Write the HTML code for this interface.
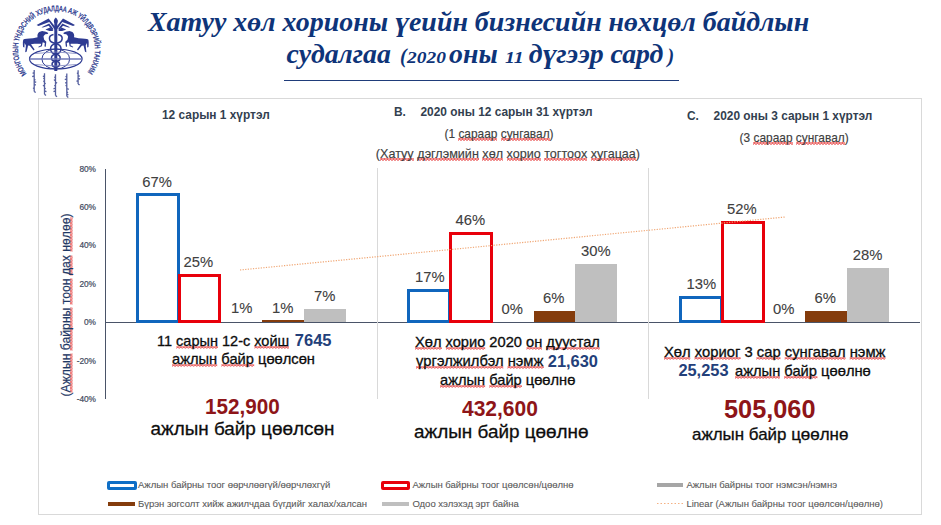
<!DOCTYPE html>
<html><head><meta charset="utf-8">
<style>
html,body{margin:0;padding:0;background:#fff;}
body{width:941px;height:525px;position:relative;overflow:hidden;font-family:"Liberation Sans",sans-serif;}
.a{position:absolute;white-space:nowrap;line-height:1;}
.t{font-family:"Liberation Serif",serif;font-weight:bold;font-style:italic;color:#0e3479;}
.ct{font-weight:bold;color:#333f50;}
.cs{color:#404040;-webkit-text-stroke:0.15px #404040;}
.yl{color:#3f4a5e;-webkit-text-stroke:0.2px #3f4a5e;}
.dl{color:#404040;-webkit-text-stroke:0.1px #404040;}
.tx{color:#0d0d0d;-webkit-text-stroke:0.3px #0d0d0d;}
.bn{font-weight:bold;color:#23407a;}
.big{font-weight:bold;color:#8e1518;}
.lg{color:#595959;-webkit-text-stroke:0.1px #595959;}
.bar{position:absolute;box-sizing:border-box;}
.bl{border:3px solid #1066bd;}
.rd{border:3px solid #e8000b;}
.br{background:#843c0c;}
.gr{background:#bfbfbf;}
.sq{background-image:linear-gradient(45deg,transparent 40%,rgba(230,60,60,.55) 40%,rgba(230,60,60,.55) 70%,transparent 70%),linear-gradient(-45deg,transparent 40%,rgba(230,60,60,.55) 40%,rgba(230,60,60,.55) 70%,transparent 70%);background-size:3px 3px;background-repeat:repeat-x;background-position:0 100%;}
</style></head><body>
<div class="a t" id="t1" style="left:147.5px;top:7.7px;font-size:27.8px;transform:scaleX(1.004);transform-origin:0 0;">Хатуу хөл хорионы үеийн бизнесийн нөхцөл байдлын</div>
<div class="a t" id="t2" style="left:286.5px;top:39.6px;font-size:27.8px;">судалгаа <span id="t2p" style="font-size:20px;margin-left:2px;">(</span><span id="t2y" style="font-size:16.5px;display:inline-block;transform:scaleX(1.18);transform-origin:0 0;margin-right:6.5px;">2020</span><span id="t2o" style="margin-left:3px">оны</span> <span id="t2n" style="font-size:16.5px;display:inline-block;transform:scaleX(1.2);transform-origin:0 0;margin-right:5.5px;">11</span><span id="t2d" style="margin-left:-4px"> дүгээр сард</span><span id="t2q" style="font-size:20px;margin-left:4px;">)</span></div>
<div class="a" style="left:284px;top:80px;width:395px;height:1px;background:#1f3c7a;"></div>
<div class="a" style="left:38px;top:98px;width:882px;height:415px;border:1px solid #d9d9d9;"></div>
<div class="a ct" id="ct1" style="left:162.0px;top:110.2px;font-size:11.9px;">12 сарын 1 хүртэл</div>
<div class="a ct" id="ct2a" style="left:394.0px;top:107.4px;font-size:11.9px;">B.</div>
<div class="a ct" id="ct2" style="left:420.5px;top:107.4px;font-size:11.9px;">2020 оны 12 сарын 31 хүртэл</div>
<div class="a cs" id="cs2" style="left:444.5px;top:129.2px;font-size:11.9px;">(1 <span class="sq">сараар</span> <span class="sq">сунгавал</span>)</div>
<div class="a cs" id="cs2b" style="left:375.8px;top:147.7px;font-size:12.6px;">(<span class="sq">Хатуу</span> <span class="sq">дэглэмийн</span> <span class="sq">хөл</span> <span class="sq">хорио</span> <span class="sq">тогтоох</span> <span class="sq">хугацаа</span>)</div>
<div class="a ct" id="ct3a" style="left:687.0px;top:110.7px;font-size:11.9px;">C.</div>
<div class="a ct" id="ct3" style="left:713.6px;top:110.7px;font-size:11.9px;">2020 оны 3 сарын 1 хүртэл</div>
<div class="a cs" id="cs3" style="left:739.6px;top:132.5px;font-size:11.9px;">(3 <span class="sq">сараар</span> <span class="sq">сунгавал</span>)</div>
<div class="a" style="left:105px;top:169px;width:1px;height:230px;background:#4a5468;"></div>
<div class="a" style="left:105px;top:322px;width:815px;height:1px;background:#4a5468;"></div>
<div class="a" style="left:377px;top:168px;width:1px;height:231px;background:#d9d9d9;"></div>
<div class="a" style="left:648px;top:168px;width:1px;height:231px;background:#d9d9d9;"></div>
<div class="a yl" style="right:845px;top:164.7px;font-size:8.3px;">80%</div>
<div class="a yl" style="right:845px;top:203.1px;font-size:8.3px;">60%</div>
<div class="a yl" style="right:845px;top:241.3px;font-size:8.3px;">40%</div>
<div class="a yl" style="right:845px;top:279.7px;font-size:8.3px;">20%</div>
<div class="a yl" style="right:845px;top:318.2px;font-size:8.3px;">0%</div>
<div class="a yl" style="right:845px;top:357.0px;font-size:8.3px;">-20%</div>
<div class="a yl" style="right:845px;top:395.4px;font-size:8.3px;">-40%</div>
<div class="a" id="ytitle" style="left:66px;top:304.5px;transform:translate(-50%,-50%) rotate(-90deg);font-size:12.2px;color:#1f3864;-webkit-text-stroke:0.2px #1f3864;">(<span class="sq">Ажлын</span> <span class="sq">байрны</span> <span class="sq">тоон</span> <span class="sq">дах</span> <span class="sq">нөлөө</span>)</div>
<div class="bar bl" style="left:136px;top:193px;width:44px;height:130px;"></div>
<div class="bar rd" style="left:178px;top:274px;width:43px;height:49px;"></div>
<div class="bar br" style="left:262px;top:320px;width:42px;height:2px;"></div>
<div class="bar gr" style="left:304px;top:309px;width:42px;height:13px;"></div>
<div class="bar bl" style="left:407px;top:289px;width:44px;height:34px;"></div>
<div class="bar rd" style="left:449px;top:232px;width:44px;height:91px;"></div>
<div class="bar br" style="left:534px;top:311px;width:41px;height:11px;"></div>
<div class="bar gr" style="left:575px;top:264px;width:42px;height:58px;"></div>
<div class="bar bl" style="left:679px;top:296px;width:44px;height:27px;"></div>
<div class="bar rd" style="left:721px;top:221px;width:44px;height:102px;"></div>
<div class="bar br" style="left:805px;top:311px;width:42px;height:11px;"></div>
<div class="bar gr" style="left:847px;top:268px;width:42px;height:54px;"></div>
<svg class="a" style="left:0;top:0;" width="941" height="525"><line x1="240" y1="270" x2="785" y2="217" stroke="#f0a673" stroke-width="1.2" stroke-dasharray="1.2 1.4"/></svg>
<div class="a dl" style="left:142.2px;top:174.7px;font-size:14.8px;">67%</div>
<div class="a dl" style="left:183.5px;top:254.5px;font-size:14.8px;">25%</div>
<div class="a dl" style="left:231.1px;top:301.1px;font-size:14.8px;">1%</div>
<div class="a dl" style="left:272.1px;top:301.1px;font-size:14.8px;">1%</div>
<div class="a dl" style="left:314.1px;top:288.5px;font-size:14.8px;">7%</div>
<div class="a dl" style="left:415.1px;top:269.5px;font-size:14.8px;">17%</div>
<div class="a dl" style="left:455.5px;top:213.1px;font-size:14.8px;">46%</div>
<div class="a dl" style="left:501.5px;top:301.9px;font-size:14.8px;">0%</div>
<div class="a dl" style="left:543.1px;top:290.5px;font-size:14.8px;">6%</div>
<div class="a dl" style="left:581.1px;top:244.1px;font-size:14.8px;">30%</div>
<div class="a dl" style="left:686.5px;top:277.1px;font-size:14.8px;">13%</div>
<div class="a dl" style="left:727.1px;top:201.9px;font-size:14.8px;">52%</div>
<div class="a dl" style="left:773.1px;top:301.5px;font-size:14.8px;">0%</div>
<div class="a dl" style="left:814.5px;top:291.1px;font-size:14.8px;">6%</div>
<div class="a dl" style="left:852.7px;top:247.9px;font-size:14.8px;">28%</div>
<div class="a tx" id="x1a" style="left:156.5px;top:334.1px;font-size:14.3px;transform:scaleX(1.015);transform-origin:0 0;">11 <span class="sq">сарын</span> 12-с <span class="sq">хойш</span></div>
<div class="a bn" id="n1" style="left:294.8px;top:332.1px;font-size:16.5px;">7645</div>
<div class="a tx" id="x1b" style="left:172.0px;top:351.9px;font-size:14.3px;transform:scaleX(1.027);transform-origin:0 0;"><span class="sq">ажлын</span> <span class="sq">байр</span> цөөлсөн</div>
<div class="a big" id="b1" style="left:204.6px;top:395.9px;font-size:21.7px;transform:scaleX(0.953);transform-origin:0 0;">152,900</div>
<div class="a tx" id="x1c" style="left:150.5px;top:419.7px;font-size:18.9px;">ажлын байр цөөлсөн</div>
<div class="a tx" id="x2a" style="left:414.6px;top:335.4px;font-size:14.2px;transform:scaleX(1.032);transform-origin:0 0;"><span class="sq">Хөл</span> <span class="sq">хорио</span> 2020 <span class="sq">он</span> <span class="sq">дуустал</span></div>
<div class="a tx" id="x2b" style="left:415.7px;top:354.0px;font-size:14.2px;transform:scaleX(1.039);transform-origin:0 0;"><span class="sq">үргэлжилбэл</span> <span class="sq">нэмж</span></div>
<div class="a bn" id="n2" style="left:547.8px;top:352.5px;font-size:16.4px;">21,630</div>
<div class="a tx" id="x2c" style="left:439.5px;top:373.0px;font-size:14.3px;transform:scaleX(1.025);transform-origin:0 0;"><span class="sq">ажлын</span> <span class="sq">байр</span> цөөлнө</div>
<div class="a big" id="b2" style="left:462.3px;top:399.4px;font-size:21.3px;transform:scaleX(0.986);transform-origin:0 0;">432,600</div>
<div class="a tx" id="x2d" style="left:414.1px;top:423.0px;font-size:18.9px;">ажлын байр цөөлнө</div>
<div class="a tx" id="x3a" style="left:664.1px;top:345.4px;font-size:14.1px;transform:scaleX(1.049);transform-origin:0 0;"><span class="sq">Хөл</span> <span class="sq">хориог</span> 3 <span class="sq">сар</span> <span class="sq">сунгавал</span> <span class="sq">нэмж</span></div>
<div class="a bn" id="n3" style="left:678.4px;top:361.7px;font-size:16.4px;">25,253</div>
<div class="a tx" id="x3b" style="left:735.3px;top:363.7px;font-size:14.1px;transform:scaleX(1.043);transform-origin:0 0;"><span class="sq">ажлын</span> <span class="sq">байр</span> цөөлнө</div>
<div class="a big" id="b3" style="left:723.6px;top:397.1px;font-size:25px;transform:scaleX(1.013);transform-origin:0 0;">505,060</div>
<div class="a tx" id="x3d" style="left:692.4px;top:425.7px;font-size:16.4px;transform:scaleX(1.033);transform-origin:0 0;">ажлын байр цөөлнө</div>
<div class="a" style="left:107px;top:481px;width:30px;height:9px;box-sizing:border-box;border:3px solid #0f6fc6;border-radius:2px;background:#fff;"></div>
<div class="a lg" id="lg1" style="left:138.0px;top:480.0px;font-size:9.5px;">Ажлын байрны тоог өөрчлөөгүй/өөрчлөхгүй</div>
<div class="a" style="left:381px;top:481px;width:29px;height:9px;box-sizing:border-box;border:3px solid #e8000b;border-radius:2px;background:#fff;"></div>
<div class="a lg" id="lg2" style="left:412.4px;top:480.0px;font-size:9.5px;">Ажлын байрны тоог цөөлсөн/цөөлнө</div>
<div class="a" style="left:657px;top:483px;width:26px;height:4px;background:#a6a6a6;"></div>
<div class="a lg" id="lg3" style="left:686.4px;top:480.0px;font-size:9.5px;">Ажлын байрны тоог нэмсэн/нэмнэ</div>
<div class="a" style="left:108px;top:502px;width:27px;height:4px;background:#843c0c;"></div>
<div class="a lg" id="lg4" style="left:138.0px;top:499.4px;font-size:9.5px;">Бүрэн зогсолт хийж ажилчдаа бүгдийг халах/халсан</div>
<div class="a" style="left:382px;top:502px;width:27px;height:4px;background:#bfbfbf;"></div>
<div class="a lg" id="lg5" style="left:412.4px;top:499.4px;font-size:9.5px;">Одоо хэлэхэд эрт байна</div>
<svg class="a" style="left:657px;top:502px;" width="26" height="3"><line x1="0" y1="1.5" x2="26" y2="1.5" stroke="#f4b183" stroke-width="1" stroke-dasharray="1.5 2"/></svg>
<div class="a lg" id="lg6" style="left:686.4px;top:499.4px;font-size:9.5px;">Linear (Ажлын байрны тоог цөөлсөн/цөөлнө)</div>
<!-- logo -->
<svg class="a" id="logo" style="left:0;top:0;" width="120" height="100" viewBox="0 0 120 100">
<defs><path id="arc" d="M 26.58 73.73 A 38.5 38.5 0 1 1 86.42 73.73"/></defs>
<g fill="#2e3b92" stroke="none">
<text font-family="Liberation Sans" font-size="7.6" stroke="#2f3c90" stroke-width="0.35" fill="#2f3c90"><textPath href="#arc" textLength="171" lengthAdjust="spacingAndGlyphs">МОНГОЛЫН  ҮНДЭСНИЙ  ХУДАЛДАА  АЖ  ҮЙЛДВЭРИЙН  ТАНХИМ</textPath></text>
<path id="horse" d="M42.1 31.1 C43.5 31.1,46 31.8,48.3 32.9 L47.7 34.1 L45.3 34.2 C44.3 35,43.6 36,43.5 36.8 L44.2 39.8 L46.3 41.8 L45.8 46.4 L44.9 46.9 L44.5 45.8 L44.8 42.9 L42.8 42.2 L42.5 43.3 L41.9 46.2 L38.6 47.4 L38.4 46.8 L41.1 45.3 L40.9 43.8 C38.5 43.6,35 43.5,31 44.2 L34.6 49.4 L33.6 50.4 L29.8 45.7 L28.1 45.5 L26.6 51.7 L25.2 52.2 L25.9 45.4 L24.6 43 L24.4 47.4 L23.1 47 C22.8 44,22.7 41,23.4 39.6 C24.5 38.6,28 38.4,33 38.2 L37.6 37.3 C37 35.5,37.8 33,39.2 32 Z"/>
<use href="#horse" transform="translate(111.6,0) scale(-1,1)"/>
<rect x="54.3" y="20" width="3" height="51"/>
<path d="M55.8 17.5 C54 19,53.3 21,54.3 23 L57.3 23 C58.3 21,57.6 19,55.8 17.5 Z"/>
<path id="wing" d="M36.6 24.9 L48.6 18.4 L55 26.5 L55 30 L49.3 22 L38.5 26 Z M41.5 27.2 L49.2 23.6 L53.5 29 L52.5 30 L48.6 25.8 L43 27.6 Z M45.5 29.6 L50 27.6 L53.5 31 L49.5 31 L46.5 30 Z"/>
<use href="#wing" transform="translate(111.6,0) scale(-1,1)"/>
</g>
<g fill="none" stroke="#2e3b92">
<path stroke-width="1.5" d="M53.5 34.5 C48 35.5,47.5 42,55.8 43.4 C63 45,62.5 53,55.8 54.1 C50 55.2,50 61,55.8 61.3 C61 62,60.5 66.5,56 67.5"/>
<path stroke-width="1.5" d="M58.1 34.5 C63.6 35.5,64.1 42,55.8 43.4 C48.6 45,49.1 53,55.8 54.1 C61.6 55.2,61.6 61,55.8 61.3 C50.6 62,51.1 66.5,55.6 67.5"/>
<ellipse cx="55.8" cy="59" rx="26.3" ry="10" stroke-width="1.2"/>
<ellipse cx="55.8" cy="59" rx="13.9" ry="10" stroke-width="1"/>
<line x1="29.5" y1="59" x2="82.1" y2="59" stroke-width="1.3" stroke="#6f78b8"/>
<path stroke-width="0.8" stroke="#7a82bd" d="M35 53.5 Q55.8 50.5 76.6 53.5 M35 64.5 Q55.8 67.5 76.6 64.5"/>
<g stroke-width="1.3" stroke="#56609f" fill="none"><path d="M34.2 70 L34.2 91.4 M34.2 72.5 L32.6 73.3 M34.2 75.9 L32.2 76.7 M34.2 79.3 L35.4 80.1 M34.2 81.5 L36.2 82.3 M34.2 84.3 L35.8 85.1 M34.2 87.7 L33.0 88.5 M34.2 91.4 L35.7 92.60000000000001"/><path d="M44.5 73.3 L44.5 94.2 M44.5 75.8 L42.9 76.6 M44.5 78.0 L43.3 78.8 M44.5 80.8 L43.3 81.6 M44.5 83.0 L45.7 83.8 M44.5 85.2 L42.9 86.0 M44.5 88.0 L45.7 88.8 M44.5 90.8 L46.5 91.6 M44.5 94.2 L46.0 95.4"/><path d="M55.5 74.3 L55.5 95.5 M55.5 76.8 L54.3 77.6 M55.5 79.6 L53.9 80.4 M55.5 82.4 L57.1 83.2 M55.5 85.2 L54.3 86.0 M55.5 88.0 L53.5 88.8 M55.5 90.8 L53.5 91.6 M55.5 95.5 L57.0 96.7"/><path d="M66.8 73.6 L66.8 96.2 M66.8 76.1 L65.6 76.9 M66.8 78.9 L64.8 79.7 M66.8 82.3 L65.2 83.1 M66.8 85.1 L65.6 85.9 M66.8 88.5 L68.8 89.3 M66.8 91.9 L68.0 92.7 M66.8 94.1 L68.4 94.9 M66.8 96.2 L68.3 97.4"/><path d="M78.1 70.2 L78.1 83.9 M78.1 72.7 L76.9 73.5 M78.1 75.5 L79.7 76.3 M78.1 78.3 L80.1 79.1 M78.1 80.5 L76.5 81.3 M78.1 83.9 L79.6 85.10000000000001"/></g>
</g>
</svg>
</body></html>
